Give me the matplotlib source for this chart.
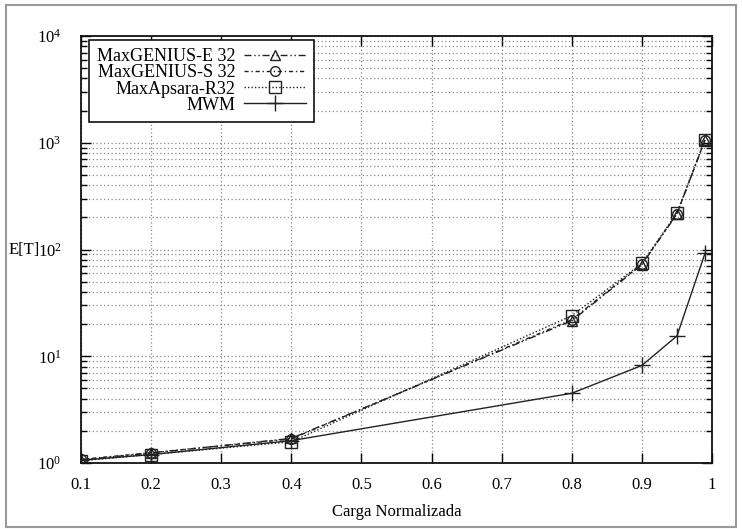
import matplotlib
matplotlib.use('Agg')
import matplotlib.pyplot as plt
from matplotlib.patches import Rectangle
from matplotlib.ticker import LogLocator, MultipleLocator, NullFormatter

plt.rcParams['font.family'] = 'Liberation Serif'
plt.rcParams['mathtext.fontset'] = 'custom'
plt.rcParams['mathtext.rm'] = 'Liberation Serif'
plt.rcParams['font.size'] = 11

# data
carga = [0.1, 0.2, 0.4, 0.8, 0.9, 0.95, 0.99]
genius_e = [1.07, 1.24, 1.70, 21.5, 72, 215, 1060]
genius_s = [1.08, 1.25, 1.68, 22.0, 73, 217, 1065]
apsara_r = [1.05, 1.20, 1.58, 24.0, 74, 220, 1070]
mwm = [1.06, 1.20, 1.62, 4.5, 8.2, 15.5, 92]

labels = ['MaxGENIUS-E 32', 'MaxGENIUS-S 32', 'MaxApsara-R32', 'MWM']

fig = plt.figure(figsize=(7.42, 5.29), dpi=100)
ax = fig.add_axes([81/742, 1-463/529, (712-81)/742, (463-36)/529])

c = '#222222'
ax.plot(carga, genius_e, color=c, lw=1, ls=(0, (5, 2, 1, 2, 1, 2)),
        marker='^', ms=7, mfc='none', mec=c, label=labels[0])
ax.plot(carga, genius_s, color=c, lw=1, ls=(0, (3, 2, 1, 2)),
        marker='o', ms=7, mfc='none', mec=c, label=labels[1])
ax.plot(carga, apsara_r, color=c, lw=1, ls=(0, (1, 1.5)),
        marker='s', ms=8, mfc='none', mec=c, label=labels[2])
ax.plot(carga, mwm, color=c, lw=1, ls='-',
        marker='+', ms=11, mec=c, label=labels[3])

ax.set_yscale('log')
ax.set_xlim(0.1, 1)
ax.set_ylim(1, 1e4)
ax.xaxis.set_major_locator(MultipleLocator(0.1))
ax.xaxis.set_major_formatter(plt.FuncFormatter(lambda v, p: '%g' % round(v, 2)))
ax.yaxis.set_major_locator(LogLocator(base=10, numticks=10))
ax.yaxis.set_minor_locator(LogLocator(base=10, subs=range(2, 10), numticks=10))
ax.yaxis.set_minor_formatter(NullFormatter())

ax.tick_params(which='both', direction='in', top=True, right=True, labelsize=12)
ax.tick_params(which='major', length=7, width=1)
ax.tick_params(which='minor', length=4, width=1)
ax.tick_params(axis='y', pad=14)
ax.tick_params(axis='x', pad=10)

ax.grid(True, which='major', axis='both', ls=(0, (1, 2)), color='#888888', lw=0.9)
ax.grid(True, which='minor', axis='y', ls=(0, (1, 2)), color='#888888', lw=0.9)
for s in ax.spines.values():
    s.set_linewidth(1.3)
    s.set_color('#111111')

ax.set_xlabel('Carga Normalizada', fontsize=12, labelpad=8)
ax.set_ylabel('E[T]', fontsize=12, rotation=0, va='center', ha='right')
ax.yaxis.set_label_coords((40 - 81) / 631, 0.5)

leg = ax.legend(loc='upper left', bbox_to_anchor=(0.012, 0.99), borderaxespad=0,
                markerfirst=False, handlelength=3.4,
                fancybox=False, framealpha=1, edgecolor='#111111',
                labelspacing=-0.05, handletextpad=0.5,
                fontsize=13, borderpad=0.45)
leg.get_frame().set_linewidth(1.2)

fig.patches.append(Rectangle((6/742, 2/529), 730/742, 522/529, transform=fig.transFigure,
                             fill=False, edgecolor='#9a9a9a', lw=1.5))

fig.savefig('out.png', dpi=100)
